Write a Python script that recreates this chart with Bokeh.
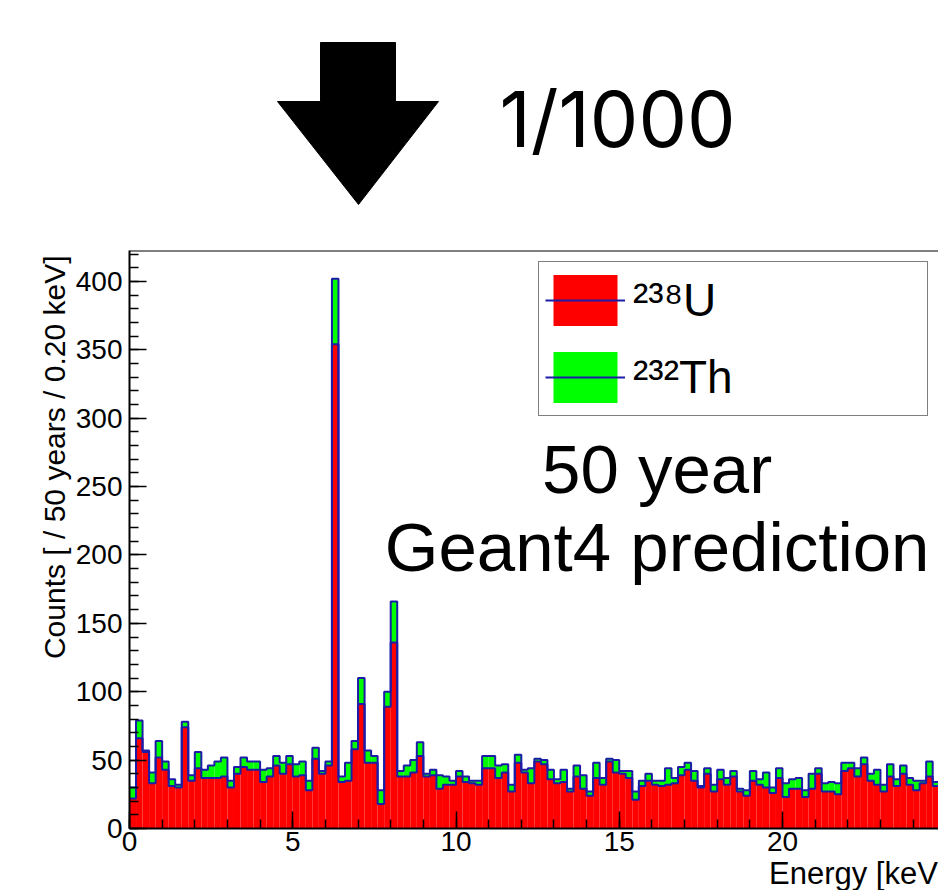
import numpy as np
from bokeh.plotting import figure
from bokeh.layouts import column
from bokeh.models import (Range1d, SingleIntervalTicker, Legend, LegendItem,
                          Label, Span, Title, ColumnDataSource)
from bokeh.core.properties import value
from bokeh.embed import file_html
from bokeh.resources import INLINE

# ---------------- data ----------------
bin_width = 0.2  # keV
u238 = [22, 66, 56, 33, 52, 43, 31, 30, 74, 35,
        44, 37, 37, 37, 38, 30, 40, 45, 43, 43,
        34, 38, 46, 40, 47, 38, 39, 28, 51, 40,
        46, 354, 34, 35, 58, 91, 48, 48, 18, 89,
        136, 38, 38, 41, 53, 38, 39, 29, 32, 32,
        38, 34, 33, 32, 44, 44, 37, 41, 27, 48,
        41, 33, 49, 47, 36, 33, 34, 27, 38, 29,
        24, 37, 32, 49, 41, 40, 37, 21, 31, 35,
        32, 31, 32, 33, 39, 43, 35, 30, 40, 27,
        36, 32, 38, 27, 24, 35, 32, 30, 26, 37,
        23, 29, 29, 23, 29, 40, 27, 27, 25, 42,
        44, 38, 47, 35, 32, 27, 38, 31, 40, 32,
        28, 33, 38, 31, 36]
th232 = [8, 13, 1, 8, 12, 6, 5, 2, 4, 4,
         12, 6, 9, 12, 14, 5, 5, 7, 6, 6,
         9, 6, 7, 8, 6, 9, 10, 7, 8, 2,
         3, 48, 4, 13, 6, 19, 9, 5, 10, 11,
         30, 4, 8, 9, 10, 2, 4, 10, 6, 3,
         4, 4, 2, 3, 9, 9, 9, 6, 5, 6,
         2, 11, 2, 3, 7, 3, 9, 2, 8, 10,
         3, 11, 5, 2, 9, 2, 5, 6, 4, 5,
         3, 4, 12, 4, 6, 5, 7, 1, 4, 5,
         7, 5, 4, 2, 4, 7, 4, 11, 4, 7,
         10, 7, 8, 5, 11, 4, 6, 7, 8, 6,
         4, 6, 5, 5, 11, 5, 9, 5, 6, 5,
         7, 2, 11, 3, 6]
y_ticks = [0, 50, 100, 150, 200, 250, 300, 350, 400]
x_ticks = [0, 5, 10, 15, 20, 25]
labels = ["\u00b2\u00b3\u2078U", "\u00b2\u00b3\u00b2Th"]
y_title = "Counts [ / 50 years / 0.20 keV]"
x_title = "Energy [keV]"
note_lines = ["50 year", "Geant4 prediction"]
scale_text = "1/1000"

# ---------------- derived ----------------
n = len(u238)
u = np.array(u238, dtype=float)
th = np.array(th232, dtype=float)
tot = u + th
left = np.arange(n) * bin_width
right = left + bin_width
edges = np.append(left, right[-1])

RED = "#ff0000"
GREEN = "#00ff00"
BLUE = "#1c1ca8"
FONT = "Liberation Sans"

W = 938
LEFT = 129          # left border (px) of both panels
TOP_H = 248
MAIN_H = 890 - TOP_H
FRAME_H = 579
X_END = (W - LEFT) / 32.65
Y_END = 422.6

# ---------------- top panel: arrow + scale text ----------------
top = figure(width=W, height=TOP_H, x_range=Range1d(LEFT, W), y_range=Range1d(TOP_H, 0),
             output_backend="svg", toolbar_location=None, min_border=0,
             min_border_left=LEFT, min_border_right=0,
             x_axis_location=None, y_axis_location=None)
top.grid.visible = False
top.outline_line_color = None
top.patch([320, 395, 395, 438, 358, 277, 320], [42, 42, 101, 101, 204, 101, 101],
          fill_color="black", line_color="black")
top.text(x=[617], y=[118], text=[scale_text], text_font=value("Inter"),
         text_font_size="77px", text_align="center", text_baseline="alphabetic",
         text_color="black")

# ---------------- main histogram ----------------
p = figure(width=W, height=MAIN_H, x_range=Range1d(0, X_END), y_range=Range1d(0, Y_END),
           output_backend="svg", toolbar_location=None,
           min_border_left=LEFT, min_border_right=0, min_border_top=2,
           min_border_bottom=MAIN_H - 2 - FRAME_H)
p.grid.visible = False
p.outline_line_color = None

src = ColumnDataSource(dict(left=left, right=right, u=u, tot=tot))
r_u = p.quad(left="left", right="right", bottom=0, top="u", source=src,
             fill_color=RED, line_color=None)
r_th = p.quad(left="left", right="right", bottom="u", top="tot", source=src,
              fill_color=GREEN, line_color=None)
l_u = p.step(x=edges, y=np.append(u, u[-1]), mode="after", line_color=BLUE, line_width=2)
l_th = p.step(x=edges, y=np.append(tot, tot[-1]), mode="after", line_color=BLUE, line_width=2)

p.add_layout(Span(location=Y_END, dimension="width", line_color="black", line_width=2))

p.xaxis.ticker = SingleIntervalTicker(interval=5, num_minor_ticks=5)
p.yaxis.ticker = SingleIntervalTicker(interval=50, num_minor_ticks=5)
for ax in (p.xaxis[0], p.yaxis[0]):
    ax.axis_line_color = "black"
    ax.axis_line_width = 2
    ax.major_tick_in = 17
    ax.major_tick_out = 0
    ax.minor_tick_in = 9
    ax.minor_tick_out = 0
    ax.major_tick_line_width = 1.5
    ax.minor_tick_line_width = 1.5
    ax.major_label_text_font = FONT
    ax.major_label_text_font_size = "28px"
    ax.major_label_text_color = "black"
p.xaxis.major_label_standoff = 3
p.yaxis.major_label_standoff = 7

# axis titles as side-panel titles (ROOT style: aligned to the axis end)
p.add_layout(Title(text=y_title, align="right", offset=5, standoff=3,
                   text_font=FONT, text_font_size="30px", text_font_style="normal",
                   text_color="black"), "left")
p.add_layout(Title(text=x_title, align="right", offset=-8, standoff=0,
                   text_font=FONT, text_font_size="31px", text_font_style="normal",
                   text_color="black"), "below")

p.add_layout(Label(x=16.16, y=262.6, text=note_lines[0], text_align="center",
                   text_baseline="alphabetic", text_font=FONT, text_font_size="69px",
                   text_color="black"))
p.add_layout(Label(x=16.16, y=205.6, text=note_lines[1], text_align="center",
                   text_baseline="alphabetic", text_font=FONT, text_font_size="69px",
                   text_color="black"))

legend = Legend(items=[LegendItem(label=labels[0], renderers=[r_u, l_u]),
                       LegendItem(label=labels[1], renderers=[r_th, l_th])],
                location=(409, 412))
legend.glyph_width = 80
legend.glyph_height = 64
legend.spacing = 13
legend.padding = 6
legend.margin = 0
legend.label_standoff = 8
legend.label_width = 288
legend.label_text_font = FONT
legend.label_text_font_size = "46px"
legend.label_text_color = "black"
legend.border_line_color = "black"
legend.border_line_width = 1.5
legend.background_fill_color = "white"
legend.background_fill_alpha = 1.0
p.add_layout(legend)

layout = column(top, p, spacing=0)
open("out.html", "w").write(file_html(layout, INLINE))
